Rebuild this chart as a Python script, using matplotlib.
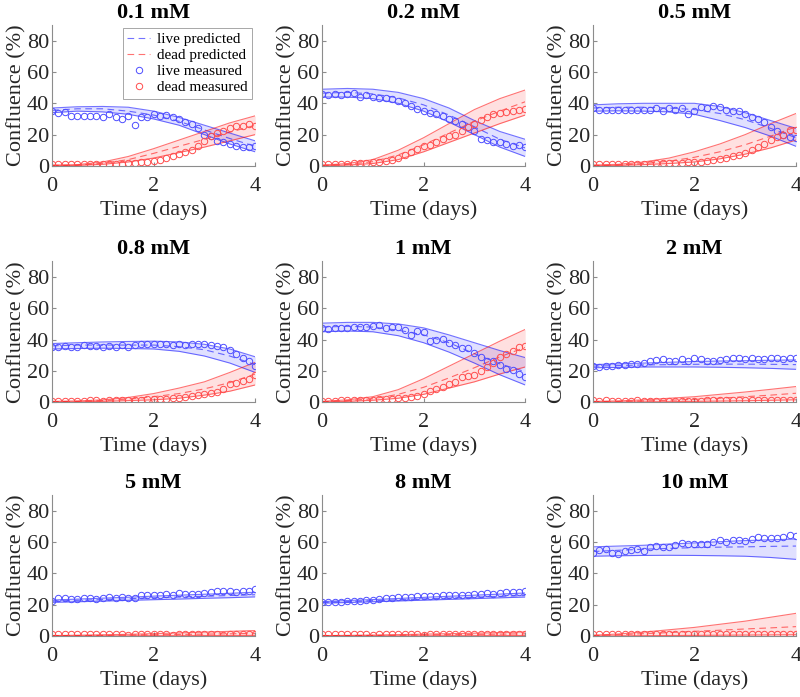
#Live / dead confluence of cells over 4 days for nine concentrations

import numpy as np
import matplotlib
matplotlib.use('Agg')
import matplotlib.pyplot as plt

plt.rcParams['font.family'] = ['Liberation Serif', 'DejaVu Serif']
plt.rcParams['mathtext.fontset'] = 'stix'

#Panel titles
conc = ['0.1 mM', '0.2 mM', '0.5 mM', '0.8 mM', '1 mM', '2 mM', '5 mM', '8 mM', '10 mM']

#Measurement times (every 3 hours) and times where predictions were read
t_meas = np.linspace(0, 4, 33)
t_pred = [0, 0.5, 1, 1.5, 2, 2.5, 3, 3.5, 4]

#Measured live confluence (%)
live_meas = [
    [35,34,34.5,32,32,32,32,32,31,33,31,30,32,26,31,31,33,32,32.5,31,30,28,27,24,20,19,16,15,14,13,12,12,13],
    [46,45,46,45.5,46,46.5,44,45,44,43.5,43.5,42.5,41.5,40.5,38,36.5,35,34,33,32,30,28.5,27,25,22,17,16.5,15.5,15,14,13,13.5,12],
    [37,36,36,36,36,36,36,36,36,36,37,35,37,36,37,33,35,37.5,37,38.5,37.5,36,35,35,33,31,30,28,25,22,20,18.5,18],
    [35.5,35,36,35,35.5,36.5,36,36,35.5,36,35.5,36.5,35.5,36.5,37,37.5,37,37.5,37,36.5,37,36.5,37,37.5,37.5,36.5,36,35,33.5,31,28.5,26,23],
    [47.4,47,47.4,47.4,47.6,47.8,47.8,48.2,49,49.2,47.6,47.8,48.2,46.3,43,45.7,45,39.4,40,40.6,37.9,36.8,34.7,34.7,31.6,28.8,26.3,26.3,24,21,20.6,17.9,16.4],
    [23,22.5,23,23,23.5,24,24.5,24.5,25,26,27,27.5,26.5,26.5,27.5,26.5,28,27.5,26.5,26.5,27,27.5,28,28,27.5,28.5,27.5,27.5,28.5,28.5,27.5,28,28.5],
    [22.5,24,24,23.5,23.5,24.5,24.5,23.5,24,25,24,25,24.5,24.5,26,26.5,26,26.5,27,26.5,27.5,27,27,27,27.5,28,29,28.5,28.5,28,28.5,28.5,30],
    [22,22,22,22,22.5,22.5,22.5,23,23,23.5,24,24.5,25,25,25,25.5,25.5,25.5,25.5,26,26,26,26.5,26.5,27,27,27.5,27,27.5,28,28,28,29],
    [53.1,55.3,55.9,53.3,52.3,54.2,55.3,55.5,54.4,56.6,57.4,57,56.6,58.1,59.6,59.1,59.1,58.7,59.1,60.2,61.3,60.2,61.3,61.3,60.6,61.7,63,62.4,62.4,62.8,63.4,64.5,64.1],
]

#Measured dead confluence (%)
dead_meas = [
    [1,1,1,1,1,1,1,1,1.2,1.2,1.3,1.5,1.8,2,2.2,2.8,3.2,4,5,6,7.5,9,10,12.5,16,19,21,22.5,24,25.5,25.5,26.5,25.5],
    [1,1,1.2,1.3,1.5,1.7,2,2,2.5,2.5,3,4,5,7,9,10.5,12.5,13.5,15.5,17,19,20,22,25,27,29.5,31.5,33,34,34.5,35,36,36.5],
    [1,1,1,1,1,1.2,1.2,1.4,1.5,1.5,1.6,1.6,1.8,2,2,2.2,2.2,2.5,3,3.5,4.5,5,6,7,8,10,12,14,16.5,18.5,20,23,23],
    [1,0.8,1,1,1,1,1.2,1.2,1,1.3,1.3,1.3,1.5,1.5,1.5,1.8,1.8,2,2,2.5,2.8,3.2,3.8,4.6,5.3,6,6.3,8.4,11.5,12,13.5,14.7,17.3],
    [1,1,1,1.2,1.2,1.3,1.4,1.5,1.6,1.8,2,2.2,2.5,2.7,3.2,3.8,5.3,7,8.4,9.5,11.6,12.6,15.8,16.8,17.5,20,22.5,25.3,28.8,31,32.6,35.2,35.8],
    [1.5,1,1.2,1,1,1,1,1.2,1,1,1,1,1,1,0.8,1,1,1,1.2,1.2,1.2,1.2,1.2,1.2,1.2,1.2,1.2,1.2,1.2,1.2,1.2,1.2,1.5],
    [1,1,1,1,1,1,1.2,1,1,1,1,1,0.8,1,1,1,1,1,1,0.8,1,1,1,1,1,1,1,0.8,1,1,1,1,1],
    [1,1,1,1,1,1,1,1,0.8,1,1,1,1,1,1,1,0.8,1,1,1,1,1,1,1,1,1,1,1,1,1,1,1,1.2],
    [1.5,1.5,1.5,1.5,1.5,1.5,1.5,1.5,1.5,1.5,1.5,1.5,1.5,1.5,1.5,1.5,1.5,1.5,1.5,1.5,1.5,1.5,1.5,1.5,1.5,1.5,1.5,1.5,1.5,1.5,1.5,1.5,1.5],
]

#Predicted live confluence: mean, lower and upper bound
live_mean = [
    [35.5,36.5,36.5,35,32.5,28.5,23,17.5,12.5],
    [46.5,47,46,43.5,39,32.5,25,17,11.5],
    [37,37.5,37.5,37,36,33.5,29.5,24,18],
    [36,36.5,36.5,36.5,36.5,35.5,33.5,29.5,24],
    [48,48.5,48,46,43,38,31,24.5,19.5],
    [23,23.4,23.8,24,24.2,24.3,24.3,24.2,24],
    [22.3,22.8,23.3,23.8,24.4,24.9,25.4,25.9,26.4],
    [21.5,22,22.6,23.1,23.7,24.2,24.8,25.3,25.9],
    [54,54.8,55.5,56,56.5,56.8,57,57.3,57.5],
]
live_lo = [
    [34,35,34.5,33,30,26,20,14,9],
    [44,44,43,40,35,28,20,12,6],
    [35,35.2,35,34.5,33,29,24.5,19,12.5],
    [34,34.3,34.5,34.3,34,32.5,29.5,25,19],
    [45,45.5,45,42.5,38,32,25,17.5,11],
    [22,22.2,22.5,22.5,22.5,22.3,22,21.6,21],
    [21.5,21.9,22.3,22.8,23.2,23.6,24.1,24.5,25],
    [21,21.4,21.9,22.4,22.9,23.4,23.9,24.4,24.9],
    [51,51.3,51.5,51.6,51.5,51.3,51,50.2,49],
]
live_hi = [
    [37,37.8,38,37.5,35,31,26,21,16],
    [49,49.5,49,47,43,37,29,22,17],
    [39,39.7,40,40,40,38,34,29,24],
    [37.5,38,38.5,38.8,39,38.5,37,34,29],
    [50.5,51,51,50,47.5,43,38,33,28.5],
    [24,24.5,25,25.5,26,26.3,26.5,26.8,27],
    [23,23.6,24.2,24.8,25.5,26.1,26.7,27.3,28],
    [22,22.7,23.3,24,24.7,25.4,26.1,26.8,27.5],
    [57,57.5,58,58.8,59.5,60.3,61,61.5,62],
]

#Predicted dead confluence: mean, lower and upper bound
dead_mean = [
    [0.3,0.5,1.7,4,8,12.5,17,21.5,26],
    [0.3,1,2.7,7,13.5,21,28.5,35,41],
    [0.3,0.6,1.5,3,5.5,9,13.5,19,25],
    [0.3,0.5,1,2,3.5,5.5,8.5,12.5,18],
    [0.3,1,2.2,5,9.5,15.5,22,29,35],
    [0.3,0.5,0.8,1.2,1.8,2.5,3.5,4.5,5.7],
    [0.2,0.3,0.4,0.6,0.8,1,1.2,1.4,1.7],
    [0.2,0.3,0.4,0.5,0.7,0.9,1,1.2,1.4],
    [0.3,0.8,1.5,2.2,3,3.7,4.5,5.2,6],
]
dead_lo = [
    [0,0.3,1,2.5,5,8.5,12,16,20],
    [0,0.5,1.5,4,9,15,21,27,32.5],
    [0,0.3,0.8,1.5,2.5,4.5,7.5,11.5,16.5],
    [0,0.2,0.5,1,1.5,2.5,4.5,7,11],
    [0,0.5,1.2,2.5,5,9,13,18,22.5],
    [0,0.1,0.2,0.3,0.5,0.7,0.9,1.2,1.5],
    [0,0,0.1,0.1,0.2,0.2,0.3,0.3,0.4],
    [0,0,0.1,0.1,0.1,0.2,0.2,0.3,0.3],
    [0,0.1,0.2,0.3,0.4,0.5,0.6,0.7,0.8],
]
dead_hi = [
    [0.5,0.8,2.5,6,11,16.5,22,27.5,32],
    [0.5,1.5,4,10,18,27,36,43,48.5],
    [0.5,1,2.5,5,9,14,20,27,33.5],
    [0.5,0.8,1.5,3,5.5,9,13,19,25.5],
    [0.5,1.5,3.5,8,15,23,31,39,46.5],
    [0.5,0.8,1.5,2.5,3.5,5,6.5,8.2,10],
    [0.3,0.5,0.8,1.1,1.5,2,2.5,3,3.5],
    [0.3,0.4,0.6,0.9,1.2,1.5,1.8,2.2,2.6],
    [0.5,1.3,2.5,4,5.5,7.5,9.5,12,14.5],
]

blue = (0, 0, 1)
red = (1, 0, 0)

fig = plt.figure(figsize=(8, 6.97), dpi=100)

lefts = [0.065, 0.4025, 0.741]
bottoms = [0.762, 0.423, 0.0875]
w, h = 0.254, 0.202

for i in range(9):
    ax = fig.add_axes([lefts[i % 3], bottoms[i // 3], w, h])

    #bands and predicted means
    for c, lo, hi, mean, lab in [(blue, live_lo[i], live_hi[i], live_mean[i], 'live predicted'),
                                 (red, dead_lo[i], dead_hi[i], dead_mean[i], 'dead predicted')]:
        ax.fill_between(t_pred, lo, hi, color=c, alpha=0.12, linewidth=0)
        ax.plot(t_pred, lo, color=c, alpha=0.55, linewidth=0.8)
        ax.plot(t_pred, hi, color=c, alpha=0.55, linewidth=0.8)
        ax.plot(t_pred, mean, color=c, alpha=0.55, linewidth=0.8, linestyle=(0, (6, 4)), label=lab)

    #measured points
    ax.plot(t_meas, live_meas[i], 'o', markerfacecolor='none', markeredgecolor=(0.3, 0.3, 1),
            markersize=4.6, markeredgewidth=0.7, label='live measured')
    ax.plot(t_meas, dead_meas[i], 'o', markerfacecolor='none', markeredgecolor=(1, 0.3, 0.3),
            markersize=4.6, markeredgewidth=0.7, label='dead measured')

    ax.set_xlim(0, 4)
    ax.set_ylim(0, 90)
    ax.set_xticks([0, 2, 4])
    ax.set_yticks([0, 20, 40, 60, 80])
    ax.spines['top'].set_visible(False)
    ax.spines['right'].set_visible(False)
    for s in ['left', 'bottom']:
        ax.spines[s].set_color('0.55')
        ax.spines[s].set_linewidth(0.8)
    ax.tick_params(direction='in', length=3, color='0.55', labelsize=16, labelcolor='#262626')
    ax.tick_params(axis='x', pad=8)
    ax.tick_params(axis='y', pad=2)
    ax.set_xlabel('Time (days)', fontsize=16, color='#262626', labelpad=3)
    ax.set_ylabel('Confluence (%)', fontsize=16, color='#262626', labelpad=0)
    ax.set_title(conc[i], fontsize=16, fontweight='bold', pad=5)

    if i == 0:
        leg = ax.legend(loc='upper right', fontsize=11, frameon=True, fancybox=False,
                        framealpha=1, edgecolor='0.6', borderaxespad=0.2,
                        handlelength=1.5, handletextpad=0.45, labelspacing=0.15,
                        borderpad=0.3)
        leg.get_frame().set_linewidth(0.6)

plt.savefig('out.png', dpi=100)
